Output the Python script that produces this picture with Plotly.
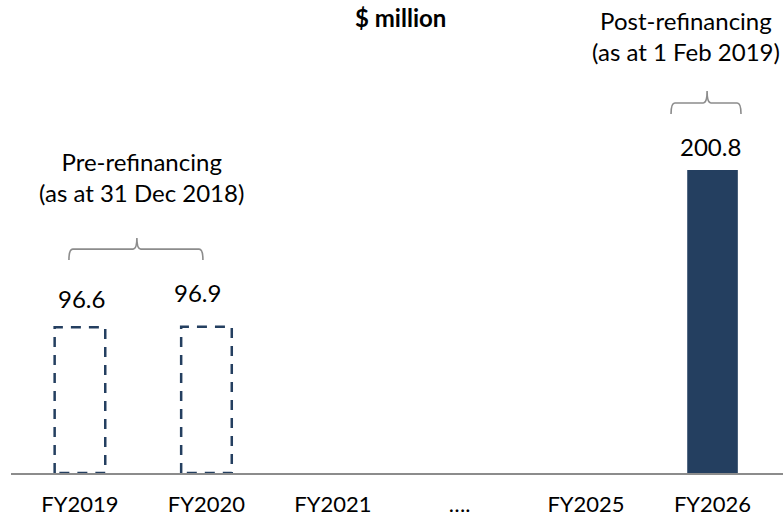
import plotly.graph_objects as go

categories = ["FY2019", "FY2020", "FY2021", "….", "FY2025", "FY2026"]
pre_values = [96.6, 96.9]          # pre-refinancing (dashed outline)
pre_idx = [0, 1]
post_values = [200.8]              # post-refinancing (filled)
post_idx = [5]
pre_label = "Pre-refinancing<br>(as at 31 Dec 2018)"
post_label = "Post-refinancing<br>(as at 1 Feb 2019)"
title_text = "$ million"

NAVY = "#243F60"
GREY = "#8C8C8C"
FONT = "Lato"
FS = 24
FS_TICK = 22
BW = 0.4

fig = go.Figure()

# filled bar
fig.add_trace(go.Bar(x=post_idx, y=post_values, width=BW, marker=dict(color=NAVY, line=dict(width=0)),
                     showlegend=False, hoverinfo="skip"))

# dashed outline bars
for i, v in zip(pre_idx, pre_values):
    xs = [i - BW / 2, i - BW / 2, i + BW / 2, i + BW / 2, i - BW / 2]
    ys = [0, v, v, 0, 0]
    fig.add_trace(go.Scatter(x=xs, y=ys, mode="lines", line=dict(color=NAVY, width=2.5, dash="10px,8px"),
                             showlegend=False, hoverinfo="skip"))

# value labels
label_offsets = {0: (2, 29), 1: (-9, 34), 5: (-2, 24)}
for i, v in list(zip(pre_idx, pre_values)) + list(zip(post_idx, post_values)):
    dx, dy = label_offsets[i]
    fig.add_annotation(x=i, y=v, text=f"{v:.1f}", showarrow=False, xshift=dx, yshift=dy,
                       xanchor="center", yanchor="middle",
                       font=dict(family=FONT, size=FS, color="#000000"))

def brace(x0, x1, xm, yh, yend, ytop, r=0.03):
    return (f"M {x0},{yend} Q {x0},{yh} {x0 + r},{yh} L {xm - r},{yh} Q {xm},{yh} {xm},{ytop} "
            f"Q {xm},{yh} {xm + r},{yh} L {x1 - r},{yh} Q {x1},{yh} {x1},{yend}")

fig.add_shape(type="path", xref="x", yref="y", path=brace(-0.087, 0.972, 0.45, 148.4, 141.2, 155.7),
              line=dict(color=GREY, width=1.6))
fig.add_shape(type="path", xref="x", yref="y", path=brace(4.672, 5.225, 4.957, 245.2, 237.9, 253.1),
              line=dict(color=GREY, width=1.6))

H = 443.0
def py(p):
    return (473 - p) / H
def px(p):
    return (p - 11) / 772

# group labels (paper coords)
fig.add_annotation(xref="paper", yref="paper", x=px(141), y=py(177), text=pre_label,
                   xanchor="center", yanchor="middle",
                   showarrow=False, font=dict(family=FONT, size=FS, color="#000000"), align="center")
fig.add_annotation(xref="paper", yref="paper", x=px(686), y=py(36), text=post_label,
                   xanchor="center", yanchor="middle",
                   showarrow=False, font=dict(family=FONT, size=FS, color="#000000"), align="center")
fig.add_annotation(xref="paper", yref="paper", x=px(400), y=py(1), text=f"<b>{title_text}</b>",
                   xanchor="center", yanchor="top",
                   showarrow=False, font=dict(family=FONT, size=FS, color="#000000"))

fig.update_layout(
    width=783, height=517,
    margin=dict(l=11, r=0, t=30, b=44, autoexpand=False),
    plot_bgcolor="white", paper_bgcolor="white",
    xaxis=dict(range=[-0.545, 5.557], tickvals=list(range(len(categories))), ticktext=categories,
               showgrid=False, zeroline=False, showline=True, linecolor=GREY, linewidth=1.5,
               ticks="outside", ticklen=11, tickcolor="rgba(0,0,0,0)", automargin=False,
               tickfont=dict(family=FONT, size=FS_TICK, color="#000000")),
    yaxis=dict(range=[0, 293.6], visible=False, automargin=False),
)

fig.write_html("out.html")
